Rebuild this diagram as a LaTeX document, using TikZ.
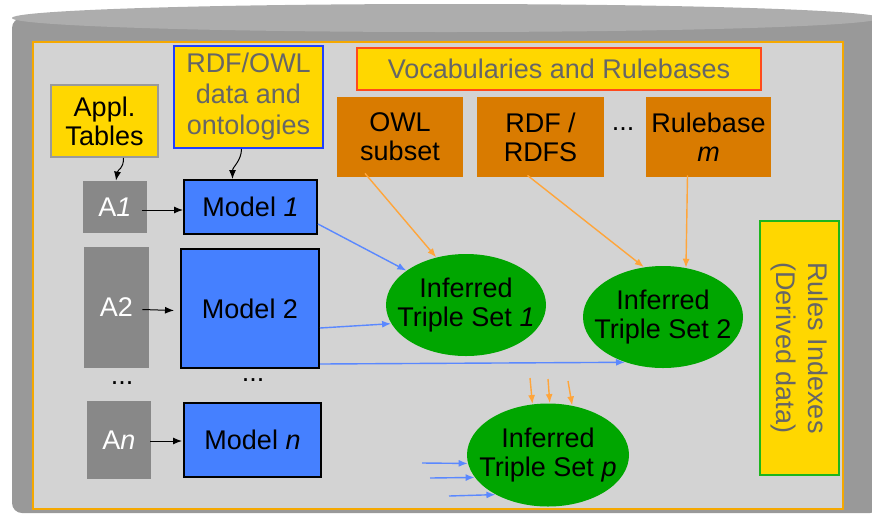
\documentclass[tikz,border=0pt]{standalone}
\usepackage{fontspec}
\setmainfont{Liberation Sans}
\usepackage{xcolor}
\usetikzlibrary{arrows,positioning,calc,shapes.geometric}
\usetikzlibrary{arrows.meta}
\definecolor{cylbody}{HTML}{999999}
\definecolor{cyltop}{HTML}{ADADAD}
\definecolor{panel}{HTML}{D3D3D3}
\definecolor{panelline}{HTML}{F5A800}
\definecolor{gold}{HTML}{FFD700}
\definecolor{rust}{HTML}{D97B00}
\definecolor{modelblue}{HTML}{4580FF}
\definecolor{setgreen}{HTML}{00A600}
\definecolor{tablegray}{HTML}{888888}
\definecolor{txtgray}{HTML}{666666}
\definecolor{appgray}{HTML}{9A9A9A}
\definecolor{rdfblue}{HTML}{2040FF}
\definecolor{vocred}{HTML}{FF4A1C}
\definecolor{rulegreen}{HTML}{1DB51D}
\definecolor{flowblue}{HTML}{5A88FF}
\definecolor{floworange}{HTML}{FFA53A}

\begin{document}
\begin{tikzpicture}[x=0.5pt,y=-0.5pt,>={Latex[length=4.5pt,width=3.5pt]},every node/.append style={align=center,font=\fontsize{13.5}{14.5}\selectfont},
  yellowbox/.style={rectangle,fill=gold,draw=#1,line width=0.8pt,inner sep=0pt,text=txtgray},
  rulebox/.style={rectangle,fill=rust,inner sep=0pt,minimum height=40pt},
  tablebox/.style={rectangle,fill=tablegray,text=white,inner sep=0pt},
  modelbox/.style={rectangle,fill=modelblue,draw=black,line width=1pt,inner sep=0pt},
  setnode/.style={ellipse,fill=setgreen,inner sep=0pt,minimum width=80pt,minimum height=51pt},
  dotsnode/.style={inner sep=0pt},
  blackflow/.style={->,black,line width=0.5pt},
  blueflow/.style={->,flowblue,line width=0.7pt},
  orangeflow/.style={->,floworange,line width=0.7pt}]
    \useasboundingbox (0,0) rectangle (872,515);
    \clip (0,0) rectangle (872,515);
    \fill[cylbody,rounded corners=5pt] (12,18) rectangle (880,513);
    \fill[cyltop] (446,18) ellipse [x radius=217pt,y radius=7pt];
    \filldraw[fill=panel,draw=panelline,line width=1pt] (33,42) rectangle (843,509);

    \node [yellowbox=appgray, text=black, minimum width=53.5pt, minimum height=36pt] (appl) at (104.5,121) {Appl.\\Tables};
    \node [yellowbox=rdfblue, minimum width=74.5pt, minimum height=51pt, font=\fontsize{13.5}{15.5}\selectfont] (rdf) at (248.5,97) {RDF/OWL\\data and\\ontologies};
    \node [yellowbox=vocred, minimum width=202pt, minimum height=21pt] (vocab) at (559,69) {Vocabularies and Rulebases};
    \node [rulebox, minimum width=63pt] (owl) at (400,137) {OWL\\subset};
    \node [rulebox, minimum width=63.5pt] (rdfs) at (540.5,137) {RDF /\\RDFS};
    \node [dotsnode] (vdots) at (623,129) {...};
    \node [rulebox, minimum width=62.5pt] (rbm) at (708.5,137) {Rulebase\\\textit{m}};

    \node [tablebox, minimum width=32pt, minimum height=26pt] (a1) at (115,207) {A\textit{1}};
    \node [modelbox, minimum width=66.5pt, minimum height=27pt] (m1) at (250.5,207) {Model \textit{1}};
    \node [tablebox, minimum width=32.5pt, minimum height=60.5pt] (a2) at (116.5,307.5) {A2};
    \node [modelbox, minimum width=69pt, minimum height=59.5pt] (m2) at (250,308.5) {Model 2};
    \node [dotsnode] (adots) at (122,383) {...};
    \node [dotsnode] (mdots) at (253,380) {...};
    \node [tablebox, minimum width=32pt, minimum height=39pt] (an) at (119,440) {A\textit{n}};
    \node [modelbox, minimum width=68.5pt, minimum height=37pt] (mn) at (252.5,440) {Model \textit{n}};

    \node [setnode, label={center:Inferred\\Triple Set \textit{1}}] (set1) at (466,305) {};
    \node [setnode, label={center:Inferred\\Triple Set 2}] (set2) at (663,317) {};
    \node [setnode, minimum width=81pt, minimum height=51.5pt, label={center:Inferred\\Triple Set \textit{p}}] (setp) at (548,455) {};

    \node [yellowbox=rulegreen, rotate=-90, minimum width=127pt, minimum height=39.5pt, font=\fontsize{13.5}{16}\selectfont] (rules) at (799.5,348) {Rules Indexes\\(Derived data)};

    \draw[blackflow] ($(appl.south)+(19,0)$) .. controls +(0,12) and +(2,-12) .. ($(a1.north)+(1,0)$);
    \draw[blackflow] ($(rdf.south)+(-7,0)$) .. controls +(0,12) and +(0,-12) .. ($(m1.north)+(-18,0)$);
    \draw[blackflow] ($(a1.east)+(-5,3)$) -- ($(m1.west)+(0,3)$);
    \draw[blackflow] ($(a2.east)+(-7,2)$) -- ($(m2.west)+(-6,2)$);
    \draw[blackflow] ($(an.east)+(-1,1)$) -- ($(mn.west)+(-1,1)$);

    \draw[blueflow] ($(m1.south east)+(0,-11)$) -- (set1.150);
    \draw[blueflow] ($(m2.east)+(0,19.5)$) -- (set1.194);
    \draw[blueflow] ($(m2.south east)+(0,-5)$) -- (set2.230);
    \draw[orangeflow] ($(owl.south)+(-35,-4)$) -- (set1.122);
    \draw[orangeflow] ($(rdfs.south)+(-13,-2)$) -- (set2.111);
    \draw[orangeflow] ($(rbm.south)+(-21,-2)$) -- (set2.65);

    \coordinate (po1) at (530,378);
    \coordinate (po2) at (548,379);
    \coordinate (po3) at (568,381);
    \coordinate (pb1) at (422,463);
    \coordinate (pb2) at (430,478);
    \coordinate (pb3) at (449,496);
    \foreach \c/\a in {po1/107,po2/88,po3/64}
      \draw[orangeflow] (\c) -- (setp.\a);
    \foreach \c/\a in {pb1/186,pb2/197,pb3/217}
      \draw[blueflow] (\c) -- (setp.\a);
\end{tikzpicture}
\end{document}
